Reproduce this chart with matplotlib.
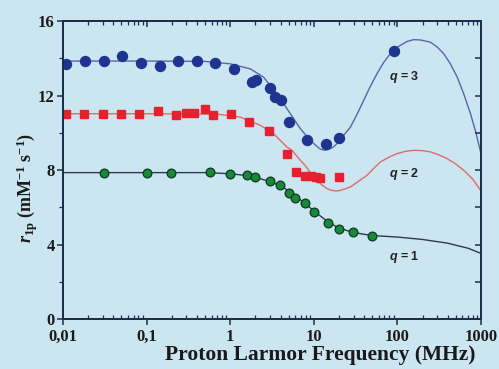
import matplotlib
matplotlib.use("Agg")
import matplotlib.pyplot as plt
from matplotlib.ticker import LogLocator, FixedLocator, NullFormatter, FixedFormatter

# ---- data ----
blue_f = [0.011, 0.0185, 0.031, 0.051, 0.086, 0.144, 0.238, 0.40, 0.667, 1.12,
          1.82, 2.04, 3.01, 3.46, 4.0, 5.1, 8.4, 14, 20, 90]
blue_r = [13.7, 13.83, 13.83, 14.1, 13.72, 13.6, 13.83, 13.83, 13.74, 13.4,
          12.72, 12.81, 12.42, 11.91, 11.77, 10.57, 9.63, 9.42, 9.74, 14.4]

red_f = [0.011, 0.018, 0.030, 0.050, 0.082, 0.136, 0.227, 0.30, 0.37, 0.50, 0.62,
         1.02, 1.7, 2.88, 4.78, 6.2, 7.9, 9.25, 10.7, 12, 19.8]
red_r = [11.02, 11.02, 11.02, 11.02, 10.99, 11.16, 10.95, 11.08, 11.08, 11.25, 10.95,
         10.99, 10.6, 10.09, 8.84, 7.9, 7.66, 7.66, 7.63, 7.57, 7.63]

green_f = [0.0307, 0.1, 0.198, 0.58, 1.0, 1.58, 1.99, 2.96, 3.97, 4.99, 6.0, 7.9,
           9.96, 14.8, 19.8, 29.5, 49.8]
green_r = [7.84, 7.84, 7.84, 7.88, 7.77, 7.72, 7.63, 7.41, 7.22, 6.79, 6.47, 6.23,
           5.73, 5.18, 4.81, 4.68, 4.46]

# fitted curves
blue_fit_f = [0.01, 0.1, 0.5, 1.0, 1.74, 2.5, 3.62, 5.24, 6.9, 8.0, 9.08, 10, 11, 12,
              13.4, 15, 17, 19, 22, 27.4, 33, 39.5, 47, 57, 68, 82, 100, 130, 157, 190,
              249, 300, 359, 430, 519, 620, 749, 870, 1000]
blue_fit_r = [13.85, 13.85, 13.83, 13.7, 13.43, 12.99, 12.1, 11.02, 10.22, 9.88, 9.6,
              9.42, 9.25, 9.12, 9.06, 9.1, 9.22, 9.42, 9.78, 10.3, 11.0, 11.74, 12.45,
              13.17, 13.75, 14.24, 14.6, 14.9, 15.0, 14.98, 14.86, 14.6, 14.24, 13.7,
              12.99, 12.1, 11.02, 10.0, 8.88]

red_fit_f = [0.01, 0.1, 0.7, 1.32, 2.29, 3.3, 4.78, 5.48, 6.9, 7.55, 9.0, 10.9, 12.5,
             14.4, 16, 18.1, 20, 22, 27.4, 34, 43.4, 52, 62.5, 80, 99, 125, 157, 200,
             249, 310, 394, 500, 623, 800, 1000]
red_fit_r = [11.02, 11.02, 11.0, 10.84, 10.4, 9.95, 9.23, 9.06, 8.52, 8.34, 7.9, 7.45,
             7.2, 7.0, 6.92, 6.88, 6.89, 6.94, 7.09, 7.38, 7.72, 8.08, 8.43, 8.7, 8.88,
             9.0, 9.06, 9.04, 8.97, 8.82, 8.61, 8.32, 7.98, 7.5, 6.88]

green_fit_f = [0.01, 0.5, 1.0, 1.58, 2.0, 3.0, 4.0, 5.0, 6.0, 8.0, 10, 15, 20, 30, 50,
               100, 200, 400, 700, 1000]
green_fit_r = [7.86, 7.86, 7.8, 7.7, 7.6, 7.38, 7.15, 6.88, 6.6, 6.18, 5.8, 5.2, 4.88,
               4.64, 4.48, 4.4, 4.27, 4.07, 3.8, 3.52]

x_ticks = [0.01, 0.1, 1, 10, 100, 1000]
x_ticklabels = ["0,01", "0,1", "1", "10", "100", "1000"]
y_ticks = [0, 4, 8, 12, 16]
y_minor = [2, 6, 10, 14]

labels = ["= 3", "= 2", "= 1"]
label_pos_f = [80, 80, 80]
label_pos_r = [12.97, 7.77, 3.34]

# ---- style ----
bg = "#cbe5f1"
spine_c = "#1c2f4a"
plt.rcParams["mathtext.fontset"] = "custom"
plt.rcParams["mathtext.rm"] = "Liberation Serif:bold"
plt.rcParams["mathtext.bf"] = "Liberation Serif:bold"
plt.rcParams["mathtext.it"] = "Liberation Serif:italic:bold"
plt.rcParams["mathtext.sf"] = "Liberation Sans:italic:bold"

fig = plt.figure(figsize=(4.99, 3.69), dpi=100, facecolor=bg)
ax = fig.add_axes([63 / 499, 1 - 319 / 369, 418 / 499, 298 / 369])
ax.set_facecolor(bg)

ax.plot(blue_fit_f, blue_fit_r, color="#5866a8", lw=1.0, zorder=2)
ax.plot(red_fit_f, red_fit_r, color="#e06a6a", lw=1.0, zorder=2)
ax.plot(green_fit_f, green_fit_r, color="#2c3a4e", lw=1.0, zorder=2)

ax.plot(blue_f, blue_r, "o", color="#1e3590", ms=7.2, mec="#1e3590", zorder=3)
ax.plot(red_f, red_r, "s", color="#e8202e", ms=5.6, mec="#e8202e", zorder=3)
ax.plot(green_f, green_r, "o", color="#18883a", ms=6.3, mec="#0c3a1c", mew=0.9, zorder=3)

for t, fx, ry in zip(labels, label_pos_f, label_pos_r):
    ax.text(fx, ry, r"$\mathsf{q}$ " + t, fontsize=9, fontweight="bold",
            family="Liberation Sans", color="#222222", ha="left", va="center", zorder=4)

ax.set_xscale("log")
ax.set_xlim(0.01, 1000)
ax.set_ylim(0, 16)

for s in ax.spines.values():
    s.set_color(spine_c)
    s.set_linewidth(1.3)

ax.xaxis.set_major_locator(FixedLocator(x_ticks))
ax.xaxis.set_major_formatter(FixedFormatter(x_ticklabels))
ax.xaxis.set_minor_locator(LogLocator(base=10, subs=range(2, 10)))
ax.xaxis.set_minor_formatter(NullFormatter())
ax.yaxis.set_major_locator(FixedLocator(y_ticks))
ax.yaxis.set_minor_locator(FixedLocator(y_minor))

ax.tick_params(axis="x", which="major", direction="out", length=4, width=1.1,
               color=spine_c, labelsize=12, pad=3)
ax.tick_params(axis="x", which="minor", direction="in", length=3, width=0.9, color=spine_c)
ax.tick_params(axis="y", which="major", direction="out", length=4, width=1.1,
               color=spine_c, labelsize=12, pad=2)
ax.tick_params(axis="y", which="minor", direction="out", length=3, width=0.9, color=spine_c)
for lab in ax.get_xticklabels() + ax.get_yticklabels():
    lab.set_family("Liberation Serif")
    lab.set_fontweight("bold")
    lab.set_color("#1a1a1a")

# top axis ticks (inward)
axt = ax.twiny()
axt.set_xscale("log")
axt.set_xlim(ax.get_xlim())
axt.xaxis.set_major_locator(FixedLocator(x_ticks))
axt.xaxis.set_minor_locator(LogLocator(base=10, subs=range(2, 10)))
axt.xaxis.set_major_formatter(NullFormatter())
axt.xaxis.set_minor_formatter(NullFormatter())
axt.tick_params(axis="x", which="major", direction="in", length=4, width=1.1, color=spine_c)
axt.tick_params(axis="x", which="minor", direction="in", length=3, width=0.9, color=spine_c)
# right axis ticks (inward)
axr = ax.twinx()
axr.set_ylim(ax.get_ylim())
axr.yaxis.set_major_locator(FixedLocator(y_ticks))
axr.yaxis.set_minor_locator(FixedLocator(y_minor))
axr.yaxis.set_major_formatter(NullFormatter())
axr.tick_params(axis="y", which="both", direction="in", length=4, width=1.1, color=spine_c)
for a in (axt, axr):
    a.patch.set_visible(False)
    for s in a.spines.values():
        s.set_color(spine_c)
        s.set_linewidth(1.3)

ax.set_xlabel("Proton Larmor Frequency (MHz)", family="Liberation Serif",
              fontweight="bold", fontsize=15.5, color="#1a1a1a")
ax.xaxis.set_label_coords(0.615, -0.122)
ax.xaxis.label.set_va("center")
ax.set_ylabel(r"$\mathit{r}_{\mathbf{1p}}$ (mM$^{\mathbf{-1}}$ s$^{\mathbf{-1}}$)",
              family="Liberation Serif", fontweight="bold", fontsize=13, color="#1a1a1a")
ax.yaxis.set_label_coords(-0.085, 0.44)
ax.yaxis.label.set_va("center")

fig.savefig("out.png", dpi=100, facecolor=bg)
